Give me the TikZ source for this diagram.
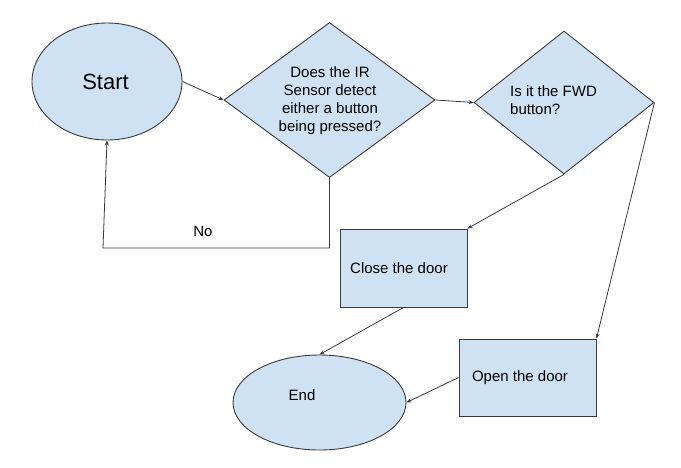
\documentclass[tikz,border=0pt]{standalone}
\usepackage{fontspec}
\setmainfont{Liberation Sans}
\usetikzlibrary{shapes.geometric,arrows.meta}
\definecolor{boxfill}{HTML}{CFE2F3}
\definecolor{edge}{HTML}{3A3A3A}
\tikzset{
  shp/.style={draw=edge, fill=boxfill, line width=0.9pt, inner sep=0pt},
  ell/.style={shp, ellipse},
  dia/.style={shp, diamond},
  rect/.style={shp, rectangle},
  lbl/.style={inner sep=0pt, font=\fontsize{15}{18}\selectfont, text=black},
  arr/.style={draw=edge, line width=0.8pt, -{Stealth[length=5pt,width=4pt]}},
}
\begin{document}
\begin{tikzpicture}[x=1pt,y=-1pt]
\useasboundingbox (0,0) rectangle (681,467);
% shapes
\node[ell, minimum width=150pt, minimum height=117pt] (start) at (107,81.5) {};
\node[dia, minimum width=211pt, minimum height=155pt] (d1) at (329.5,100) {};
\node[dia, minimum width=180pt, minimum height=143pt] (d2) at (564,102.5) {};
\node[rect, minimum width=127pt, minimum height=78pt] (close) at (403.5,268) {};
\node[rect, minimum width=137pt, minimum height=77pt] (open) at (527.5,377.5) {};
\node[ell, minimum width=173pt, minimum height=95pt] (end) at (319.5,402.5) {};
% labels
\node[lbl, font=\fontsize{22}{26}\selectfont] (tstart) at (105.5,82) {Start};
\node[lbl, align=center] (td1) at (330,100.5) {Does the IR\\Sensor detect\\either a button\\being pressed?};
\node[lbl, align=left, anchor=north west] (td2) at (510,85) {Is it the FWD\\button?};
\node[lbl] (tclose) at (399,268) {Close the door};
\node[lbl] (topen) at (520,378) {Open the door};
\node[lbl] (tend) at (302,395) {End};
\node[lbl] (tno) at (203,231) {No};
% connectors
\coordinate (nocorner) at (103,248);
\draw[arr] (start.east) -- (d1.west);
\draw[arr] (d1.east) -- (d2.west);
\draw[arr] (d1.south) |- (nocorner) -- (start.south);
\draw[arr] (d2.south) -- (close.north east);
\draw[arr] (d2.east) -- (open.north east);
\draw[arr] (close.south) -- (end.north);
\draw[arr] (open.west) -- (end.east);
\end{tikzpicture}
\end{document}
